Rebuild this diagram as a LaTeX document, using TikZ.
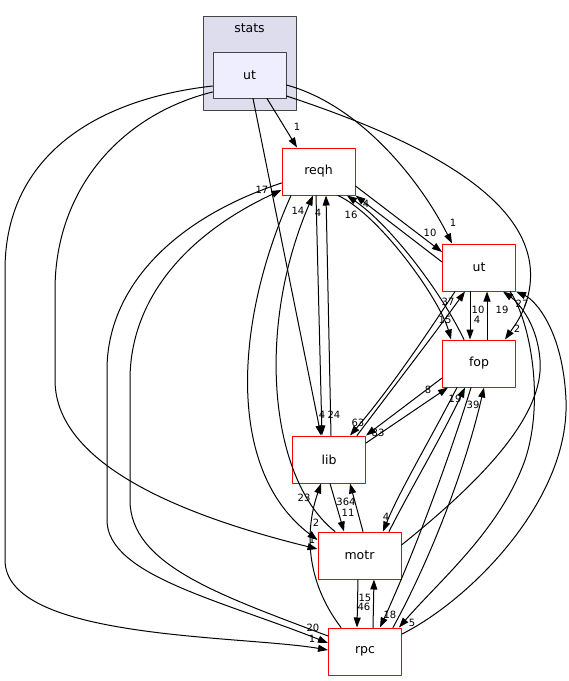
\documentclass[tikz,border=0pt]{standalone}
\usepackage{fontspec}
\setmainfont{DejaVu Sans}
\usetikzlibrary{arrows.meta,calc}
\definecolor{clusterfill}{HTML}{DDDDEE}
\definecolor{nodefill}{HTML}{EEEEFF}
\definecolor{frame}{HTML}{444444}

\begin{document}
\begin{tikzpicture}[x=1pt, y=-1pt, line join=round, line cap=round,
  >={Triangle[length=10pt,width=7pt]},
  dirnode/.style={draw=red, line width=1pt, minimum width=73pt, minimum height=47pt,
    inner sep=0pt, font=\fontsize{12.5}{14}\selectfont},
  dep/.style={->, line width=1pt},
  lab/.style={inner sep=0pt, font=\fontsize{10}{12}\selectfont}]
\useasboundingbox (0,0) rectangle (569,681);
% the stats cluster
\node[draw=frame, fill=clusterfill, line width=1pt, minimum width=93pt, minimum height=94pt, inner sep=0pt] (stats) at (249.5,63) {};
\node[lab, font=\fontsize{12.5}{14}\selectfont] (statsname) at (249.5,28) {stats};
\node[dirnode, draw=frame, fill=nodefill, minimum height=46pt] (sut) at (249.5,75) {ut};
% directories
\node[dirnode] (reqh) at (318.5,171.5) {reqh};
\node[dirnode] (ut) at (479,267.5) {ut};
\node[dirnode] (fop) at (479,363.5) {fop};
\node[dirnode] (lib) at (329,459.5) {lib};
\node[dirnode, minimum width=83pt] (motr) at (359.5,555.5) {motr};
\node[dirnode] (rpc) at (365,651.5) {rpc};
% from stats/ut
\draw[dep] ($(sut.west)+(0,11)$) .. controls (90,100) and (5,160) .. (5,270) -- (5,560)
  .. controls (5,640) and (240,635) .. ($(rpc.west)+(0,-1.5)$);
\draw[dep] ($(sut.west)+(0,17)$) .. controls (120,115) and (55,190) .. (55,290) -- (55,380)
  .. controls (55,470) and (200,520) .. ($(motr.west)+(0,-6.5)$);
\draw[dep] ($(sut.south)+(3.5,0)$) -- ($(lib.north)+(-8,0)$);
\draw[dep] ($(sut.south)+(17.5,0)$) -- ($(reqh.north)+(-21.5,0)$);
\draw[dep] ($(sut.east)+(0,10)$) .. controls (360,105) and (420,180) .. ($(ut.north)+(-27,0)$);
\draw[dep] ($(sut.east)+(0,21)$) .. controls (420,140) and (540,200) .. (530,285)
  .. controls (527,310) and (515,325) .. ($(fop.north)+(26,0)$);
% from reqh
\draw[dep] ($(reqh.east)+(0,14.5)$) -- ($(ut.west)+(0,-15.5)$);
\draw[dep] ($(reqh.south)+(19.5,0)$) .. controls (380,215) and (440,300) .. ($(fop.north)+(-28,0)$);
\draw[dep] ($(reqh.south)+(-2.5,0)$) -- ($(lib.north)+(-7,0)$);
\draw[dep] ($(reqh.south)+(-27.5,0)$) .. controls (235,320) and (225,470) .. ($(motr.west)+(0,-15.5)$);
\draw[dep] ($(reqh.west)+(0,11.5)$) .. controls (170,220) and (107,290) .. (107,370) -- (107,520)
  .. controls (107,575) and (220,600) .. ($(rpc.west)+(0,-8.5)$);
% from ut
\draw[dep] ($(ut.west)+(0,-5.5)$) -- (reqh.south east);
\draw[dep] ($(ut.south)+(-9,0)$) -- ($(fop.north)+(-9,0)$);
\draw[dep] ($(ut.south)+(-24,0)$) .. controls (420,345) and (385,395) .. ($(lib.north)+(21,0)$);
\draw[dep] ($(ut.south)+(31,0)$) .. controls (530,320) and (545,400) .. (525,460)
  .. controls (500,530) and (440,580) .. ($(rpc.north)+(34,0)$);
% from fop
\draw[dep] ($(fop.north)+(-15,0)$) .. controls (440,290) and (390,225) .. ($(reqh.south)+(28.5,0)$);
\draw[dep] ($(fop.north)+(8,0)$) -- ($(ut.south)+(8,0)$);
\draw[dep] ($(fop.west)+(0,14.5)$) -- (lib.north east);
\draw[dep] ($(fop.south)+(-22,0)$) .. controls (430,440) and (400,490) .. ($(motr.north)+(23.5,0)$);
\draw[dep] ($(fop.south)+(-8,0)$) .. controls (455,440) and (420,540) .. ($(rpc.north)+(15,0)$);
% from lib
\draw[dep] ($(lib.north)+(2,0)$) -- ($(reqh.south)+(7.5,0)$);
\draw[dep] ($(lib.north)+(28,0)$) .. controls (395,385) and (430,340) .. ($(ut.south)+(-14,0)$);
\draw[dep] ($(lib.east)+(0,-16.5)$) -- ($(fop.south)+(-31,0)$);
\draw[dep] ($(lib.south)+(1,0)$) -- ($(motr.north)+(-15.5,0)$);
% from motr
\draw[dep] ($(motr.north)+(-24.5,0)$) .. controls (270,480) and (255,330) .. ($(reqh.south)+(-5.5,0)$);
\draw[dep] ($(motr.north)+(3.5,0)$) -- ($(lib.south)+(21,0)$);
\draw[dep] ($(motr.east)+(0,-10.5)$) .. controls (470,490) and (545,420) .. (540,360)
  .. controls (537,320) and (515,300) .. ($(ut.south)+(24,0)$);
\draw[dep] ($(motr.north)+(29.5,0)$) .. controls (410,490) and (440,440) .. ($(fop.south)+(-14,0)$);
\draw[dep] ($(motr.south)+(-1.5,0)$) -- ($(rpc.north)+(-8,0)$);
% from rpc
\draw[dep] ($(rpc.west)+(0,-15.5)$) .. controls (220,595) and (130,565) .. (130,500) -- (130,380)
  .. controls (130,300) and (185,235) .. ($(reqh.west)+(0,18.5)$);
\draw[dep] ($(rpc.north)+(-24,0)$) .. controls (305,580) and (305,530) .. ($(lib.south)+(-8,0)$);
\draw[dep] ($(rpc.north)+(8,0)$) -- ($(motr.south)+(14.5,0)$);
\draw[dep] ($(rpc.north)+(28,0)$) .. controls (430,560) and (465,470) .. ($(fop.south)+(5,0)$);
\draw[dep] ($(rpc.east)+(0,-17.5)$) .. controls (470,600) and (570,500) .. (566,400)
  .. controls (563,330) and (535,300) .. (ut.south east);
% counts
\foreach \t/\px/\py [count=\i] in {1/297/127, 1/453/223, 2/517/329, 4/322/415, 1/312/540, 1/312/639,
  10/430/233, 15/445/320, 24/334/415, 2/316/523, 20/313/628,
  4/366/204, 4/477/320, 63/358/423, 5/412/623,
  16/351/215, 10/478/310, 83/378/433, 4/386/517, 18/390/615,
  4/318/213, 37/448/302, 8/428/390, 11/348/513,
  14/298/211, 364/346/502, 19/502/310, 19/455/399, 46/364/607,
  17/262/190, 23/304/498, 15/365/598, 39/473/405, 27/522/304}
  \node[lab] (cnt\i) at (\px,\py) {\t};
\end{tikzpicture}
\end{document}
